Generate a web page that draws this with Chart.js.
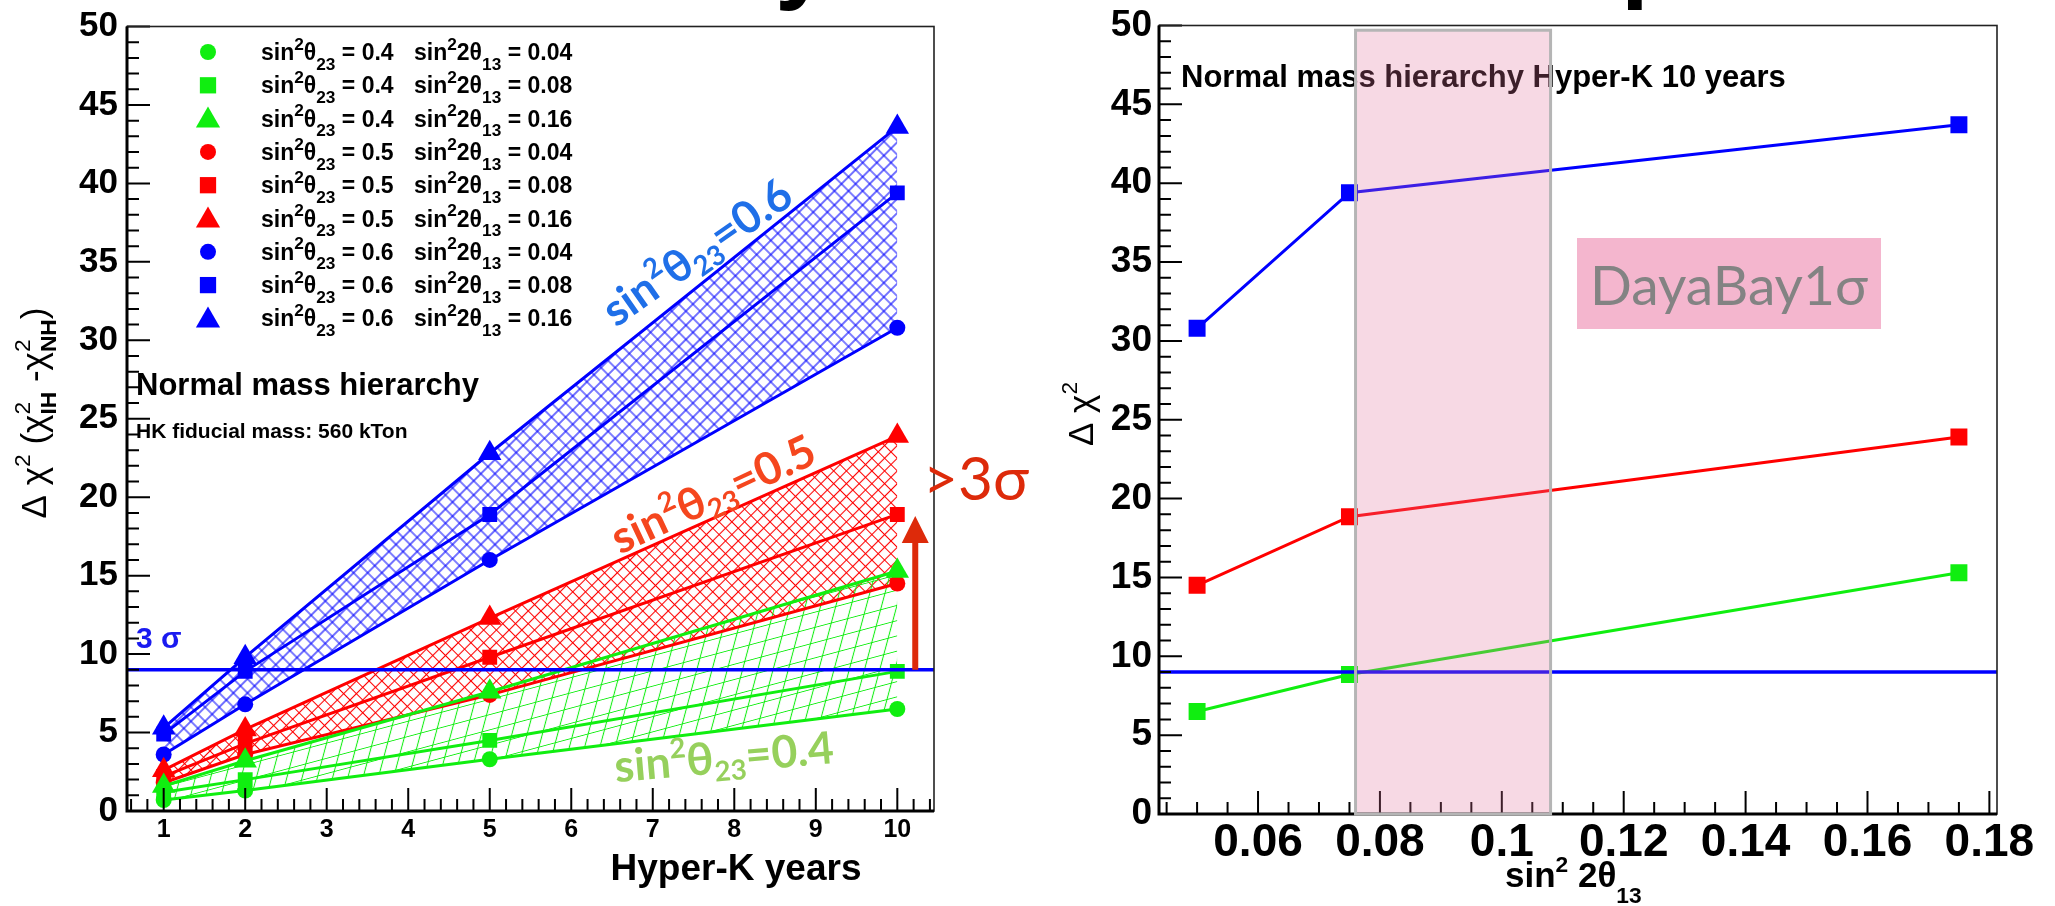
<!DOCTYPE html>
<html>
<head>
<meta charset="utf-8">
<title>Hyper-K mass hierarchy sensitivity</title>
<script src="https://cdn.jsdelivr.net/npm/chart.js@4.4.1/dist/chart.umd.min.js"></script>
<style>
  html, body { margin: 0; padding: 0; background: #fff; }
  body { width: 2055px; height: 906px; position: relative; overflow: hidden; }
  canvas { position: absolute; top: 0; }
  #left { left: 0; }
  #right { left: 1050px; }
</style>
</head>
<body>
<canvas id="left" width="1050" height="906"></canvas>
<canvas id="right" width="1005" height="906"></canvas>
<script>
// ---------------- data ----------------
const years = [1, 2, 5, 10];
const sin2th23 = [0.4, 0.5, 0.6];
const sin22th13 = [0.04, 0.08, 0.16];

// delta chi2 (IH - NH), normal hierarchy, 560 kton
const dchi2_04_004 = [0.7, 1.3, 3.3, 6.5];
const dchi2_04_008 = [1.2, 2.0, 4.5, 8.9];
const dchi2_04_016 = [1.6, 3.2, 7.6, 15.3];
const dchi2_05_004 = [1.8, 3.6, 7.4, 14.5];
const dchi2_05_008 = [2.2, 4.3, 9.8, 18.9];
const dchi2_05_016 = [2.6, 5.2, 12.3, 23.9];
const dchi2_06_004 = [3.6, 6.8, 16.0, 30.8];
const dchi2_06_008 = [4.9, 8.9, 18.9, 39.4];
const dchi2_06_016 = [5.3, 9.8, 22.8, 43.6];

// right panel: 10 years of Hyper-K vs sin^2 2theta13
const th13Points = [0.05, 0.075, 0.175];
const tenYears_04 = [6.5, 8.85, 15.3];
const tenYears_05 = [14.5, 18.85, 23.9];
const tenYears_06 = [30.8, 39.4, 43.7];

const threeSigma = 9;
const dayaBay1Sigma = [0.076, 0.108];
const dayaBayTop = 49.7;
const arrowYears = 10.22;
const arrowTo = 18.8;

const yearTicks = [1, 2, 3, 4, 5, 6, 7, 8, 9, 10];
const th13Ticks = [0.06, 0.08, 0.1, 0.12, 0.14, 0.16, 0.18];
const th13TickLabels = ['0.06', '0.08', '0.1', '0.12', '0.14', '0.16', '0.18'];
const chi2Ticks = [0, 5, 10, 15, 20, 25, 30, 35, 40, 45, 50];

// ---------------- styles ----------------
const HELV = '"Liberation Sans", Arial, Helvetica, sans-serif';
const GILL = 'Lato, "Open Sans", sans-serif';
const GREEN = '#10ee10', RED = '#ff0000', BLUE = '#0000ff';
const L = { xMin: 0.55, xMax: 10.45 };
const R = { xMin: 0.04375, xMax: 0.18125 };

function gridPattern(color, size, lw, matrix) {
  const tile = document.createElement('canvas');
  tile.width = size; tile.height = size;
  const g = tile.getContext('2d');
  g.strokeStyle = color; g.lineWidth = lw;
  g.beginPath();
  g.moveTo(0, size / 2); g.lineTo(size, size / 2);
  g.moveTo(size / 2, 0); g.lineTo(size / 2, size);
  g.stroke();
  const pat = g.createPattern(tile, 'repeat');
  pat.setTransform(matrix);
  return pat;
}
const blueHatch = gridPattern(BLUE, 10, 1.1, new DOMMatrix().rotate(45));
const redHatch = gridPattern(RED, 9, 1.1, new DOMMatrix().rotate(45));
const greenHatch = gridPattern(GREEN, 17, 1.2, new DOMMatrix([0.966, -0.259, -0.259, 0.966, 0, 0]));

// text with ROOT-like super/subscripts
function richRun(ctx, parts, x, y, o, draw) {
  let cx = x;
  const font = (s, w) => `${w || o.weight || 'normal'} ${s}px ${o.family}`;
  for (const p of parts) {
    if (typeof p === 'string') {
      ctx.font = font(o.size);
      if (draw) ctx.fillText(p, cx, y);
      cx += ctx.measureText(p).width;
    } else {
      const s = o.size * (o.script || 0.65);
      let w = 0;
      if (p.sup) {
        ctx.font = font(s, p.supWeight);
        if (draw) ctx.fillText(p.sup, cx, y - o.size * (o.rise || 0.42));
        w = Math.max(w, ctx.measureText(p.sup).width);
      }
      if (p.sub) {
        ctx.font = font(s, p.subWeight);
        if (draw) ctx.fillText(p.sub, cx, y + o.size * (o.drop || 0.25));
        w = Math.max(w, ctx.measureText(p.sub).width);
      }
      cx += w + (o.gap || 0);
    }
  }
  return cx - x;
}

function label(ctx, parts, cx, cy, deg, o) {
  ctx.save();
  ctx.translate(cx, cy);
  ctx.rotate(deg * Math.PI / 180);
  ctx.fillStyle = o.color || '#000';
  ctx.textAlign = 'left';
  ctx.textBaseline = 'alphabetic';
  let size = o.size;
  if (o.fitWidth) size = size * o.fitWidth / richRun(ctx, parts, 0, 0, o, false);
  const opt = Object.assign({}, o, { size });
  const w = o.align === 'left' ? 0 : richRun(ctx, parts, 0, 0, opt, false);
  richRun(ctx, parts, -w / 2, o.baseShift === undefined ? size * 0.35 : o.baseShift, opt, true);
  ctx.restore();
}

const theta23Label = v => ['sin', { sup: '2' }, 'θ', { sub: '23' }, '=' + v];

// ROOT style axes: ticks inside, frame
function drawFrame(chart, xMajor, xMinor, yMajor, yMinor) {
  const { ctx, chartArea: a, scales: { x, y } } = chart;
  ctx.save();
  ctx.strokeStyle = '#000';
  ctx.lineWidth = 2;
  ctx.beginPath();
  xMajor.forEach(v => { const p = x.getPixelForValue(v); ctx.moveTo(p, a.bottom); ctx.lineTo(p, a.bottom - 23); });
  xMinor.forEach(v => { const p = x.getPixelForValue(v); ctx.moveTo(p, a.bottom); ctx.lineTo(p, a.bottom - 12); });
  yMajor.forEach(v => { const p = y.getPixelForValue(v); ctx.moveTo(a.left, p); ctx.lineTo(a.left + 23, p); });
  yMinor.forEach(v => { const p = y.getPixelForValue(v); ctx.moveTo(a.left, p); ctx.lineTo(a.left + 12, p); });
  ctx.stroke();
  ctx.lineWidth = 1.6;
  ctx.strokeStyle = '#222';
  ctx.strokeRect(a.left, a.top, a.right - a.left, a.bottom - a.top);
  ctx.lineWidth = 3;
  ctx.strokeStyle = '#000';
  ctx.beginPath();
  ctx.moveTo(a.left, a.top); ctx.lineTo(a.left, a.bottom); ctx.lineTo(a.right, a.bottom);
  ctx.stroke();
  ctx.restore();
}

function minorTicks(from, to, step, majors) {
  const out = [];
  for (let k = Math.round(from / step); k * step <= to + 1e-9; k++) {
    const v = +(k * step).toFixed(6);
    if (!majors.some(m => Math.abs(m - v) < 1e-9)) out.push(v);
  }
  return out;
}
const yMinor = minorTicks(1, 49, 1, chi2Ticks);

function scaleY(width, size, pad) {
  return {
    min: 0, max: 50,
    afterBuildTicks: s => { s.ticks = chi2Ticks.map(v => ({ value: v })); },
    afterFit: s => { s.width = width; },
    grid: { display: false, drawTicks: false }, border: { display: false },
    ticks: { color: '#000', padding: pad, font: { family: HELV, size, weight: 'bold', lineHeight: 1 } }
  };
}

// ---------------- left chart ----------------
const groups = [
  { color: GREEN, hatch: greenHatch, tri: dchi2_04_016, sq: dchi2_04_008, circ: dchi2_04_004 },
  { color: RED, hatch: redHatch, tri: dchi2_05_016, sq: dchi2_05_008, circ: dchi2_05_004 },
  { color: BLUE, hatch: blueHatch, tri: dchi2_06_016, sq: dchi2_06_008, circ: dchi2_06_004 }
];
const toPoints = (xs, ys) => xs.map((x, i) => ({ x, y: ys[i] }));

const leftDatasets = [{
  label: '3 sigma', data: [{ x: L.xMin, y: threeSigma }, { x: L.xMax, y: threeSigma }],
  borderColor: BLUE, borderWidth: 3.5, pointRadius: 0, fill: false
}];
const legendRows = [];
groups.forEach((g, gi) => {
  const sets = [['triangle', g.tri, 13.5, 2], ['rect', g.sq, 10.5, 1], ['circle', g.circ, 8, 0]];
  sets.forEach(([style, arr, r, ti]) => {
    leftDatasets.push({
      label: `sin2th23=${sin2th23[gi]} sin22th13=${sin22th13[ti]}`,
      data: toPoints(years, arr),
      borderColor: g.color, borderWidth: 3,
      backgroundColor: style === 'triangle' ? g.hatch : g.color,
      fill: style === 'triangle' ? '+2' : false,
      pointStyle: style, pointRadius: r, pointBackgroundColor: g.color, pointBorderWidth: 0,
      tension: 0
    });
  });
  [['circle', 8, 0], ['rect', 11.5, 1], ['triangle', 14, 2]].forEach(([style, r, ti]) => {
    legendRows.push({ style, r, color: g.color, a: sin2th23[gi], b: sin22th13[ti] });
  });
});

const leftDecor = {
  id: 'leftDecor',
  afterDatasetsDraw(chart) {
    const { ctx, scales: { x, y } } = chart;
    drawFrame(chart, yearTicks, minorTicks(0.6, 10.4, 0.2, yearTicks), chi2Ticks, yMinor);

    // legend
    legendRows.forEach((row, i) => {
      const cy = 52 + 33.3 * i;
      ctx.save();
      ctx.fillStyle = row.color;
      Chart.helpers.drawPoint(ctx, { pointStyle: row.style, radius: row.r, rotation: 0, borderWidth: 0 }, 208, cy + (row.style === 'triangle' ? 2 : 0));
      ctx.restore();
      const o = { family: HELV, size: 23, weight: 'bold', script: 0.75, rise: 0.45, drop: 0.42, align: 'left', baseShift: 0 };
      label(ctx, ['sin', { sup: '2' }, 'θ', { sub: '23' }, ' = ' + row.a], 261, cy + 8, 0, o);
      label(ctx, ['sin', { sup: '2' }, '2θ', { sub: '13' }, ' = ' + row.b], 414, cy + 8, 0, o);
    });

    ctx.save();
    ctx.fillStyle = '#000';
    ctx.textAlign = 'left';
    ctx.font = `bold 31px ${HELV}`;
    ctx.fillText('Normal mass hierarchy', 136, 395);
    ctx.font = `bold 21px ${HELV}`;
    ctx.fillText('HK fiducial mass: 560 kTon', 136, 438);
    ctx.fillStyle = '#1a1af0';
    ctx.font = `bold 30px ${HELV}`;
    ctx.fillText('3 σ', 136, 648);
    ctx.restore();

    // band labels
    label(ctx, theta23Label(sin2th23[2]), 697, 252, -35, { family: GILL, size: 40, weight: 'bold', color: '#1f6fe8', fitWidth: 220, script: 0.62, rise: 0.42, drop: 0.18 });
    label(ctx, theta23Label(sin2th23[1]), 713, 494, -25, { family: GILL, size: 40, weight: 'bold', color: '#f5461e', fitWidth: 220, script: 0.62, rise: 0.42, drop: 0.18 });
    label(ctx, theta23Label(sin2th23[0]), 724, 757, -5, { family: GILL, size: 40, weight: 'bold', color: '#96d05c', fitWidth: 220, script: 0.62, rise: 0.42, drop: 0.18 });

    // >3 sigma arrow
    const ax = x.getPixelForValue(arrowYears);
    const y0 = y.getPixelForValue(threeSigma), y1 = y.getPixelForValue(arrowTo);
    ctx.save();
    ctx.strokeStyle = '#dd2a0a'; ctx.fillStyle = '#dd2a0a';
    ctx.lineWidth = 6;
    ctx.beginPath(); ctx.moveTo(ax, y0); ctx.lineTo(ax, y1 + 20); ctx.stroke();
    ctx.beginPath(); ctx.moveTo(ax, y1); ctx.lineTo(ax - 13.5, y1 + 27); ctx.lineTo(ax + 13.5, y1 + 27); ctx.closePath(); ctx.fill();
    ctx.restore();
    label(ctx, ['>3σ'], 976, 478, 0, { family: GILL, size: 60, color: '#dd2a0a', fitWidth: 106, baseShift: 22 });

    // axis titles
    ctx.save();
    ctx.fillStyle = '#000';
    ctx.textAlign = 'center';
    ctx.font = `bold 37px ${HELV}`;
    ctx.fillText('Hyper-K years', 736, 880);
    ctx.restore();
    label(ctx, ['Δ χ', { sup: '2' }, ' (χ', { sup: '2', sub: 'IH', subWeight: 'bold' }, ' -χ', { sup: '2', sub: 'NH', subWeight: 'bold' }, ')'],
      46, 413, -90, { family: HELV, size: 35, script: 0.65, rise: 0.45, drop: 0.28, baseShift: 0 });

    // cut-off title fragment
    ctx.save();
    ctx.fillStyle = '#000';
    ctx.font = `bold 100px ${HELV}`;
    ctx.fillText('y', 775, -10);
    ctx.restore();
  }
};

new Chart(document.getElementById('left'), {
  type: 'line',
  data: { datasets: leftDatasets },
  options: {
    responsive: false, animation: false, devicePixelRatio: 1,
    layout: { padding: { left: 0, top: 24, right: 116, bottom: 0 } },
    scales: {
      x: {
        type: 'linear', min: L.xMin, max: L.xMax,
        afterBuildTicks: s => { s.ticks = yearTicks.map(v => ({ value: v })); },
        afterFit: s => { s.height = 95; },
        grid: { display: false, drawTicks: false }, border: { display: false },
        ticks: { color: '#000', padding: 7, autoSkip: false, maxRotation: 0, font: { family: HELV, size: 25, weight: 'bold', lineHeight: 1 } }
      },
      y: scaleY(127, 35, 9)
    },
    plugins: { legend: { display: false }, tooltip: { enabled: false }, filler: { drawTime: 'beforeDatasetsDraw' } }
  },
  plugins: [leftDecor]
});

// ---------------- right chart ----------------
const rightDatasets = [
  { label: '3 sigma', data: [{ x: R.xMin, y: threeSigma }, { x: R.xMax, y: threeSigma }], borderColor: BLUE, borderWidth: 3.5, pointRadius: 0 },
  { label: 'sin2th23=0.4', data: toPoints(th13Points, tenYears_04), borderColor: GREEN, backgroundColor: GREEN },
  { label: 'sin2th23=0.5', data: toPoints(th13Points, tenYears_05), borderColor: RED, backgroundColor: RED },
  { label: 'sin2th23=0.6', data: toPoints(th13Points, tenYears_06), borderColor: BLUE, backgroundColor: BLUE }
];
rightDatasets.slice(1).forEach(d => Object.assign(d, { borderWidth: 3, pointStyle: 'rect', pointRadius: 12, pointBorderWidth: 0, fill: false, tension: 0 }));

const rightDecor = {
  id: 'rightDecor',
  beforeDatasetsDraw(chart) {
    const { ctx } = chart;
    ctx.save();
    ctx.fillStyle = '#000';
    ctx.font = `bold 31px ${HELV}`;
    ctx.fillText('Normal mass hierarchy Hyper-K 10 years', 131, 87);
    ctx.restore();
  },
  afterDatasetsDraw(chart) {
    const { ctx, scales: { x, y } } = chart;
    drawFrame(chart, th13Ticks, minorTicks(0.045, 0.18, 0.005, th13Ticks), chi2Ticks, yMinor);

    // Daya Bay 1 sigma band (translucent, on top)
    const x0 = x.getPixelForValue(dayaBay1Sigma[0]), x1 = x.getPixelForValue(dayaBay1Sigma[1]);
    const yt = y.getPixelForValue(dayaBayTop), yb = y.getPixelForValue(0);
    ctx.save();
    ctx.fillStyle = 'rgba(225,116,157,0.27)';
    ctx.fillRect(x0, yt, x1 - x0, yb - yt);
    ctx.strokeStyle = '#b5b5b5';
    ctx.lineWidth = 3;
    ctx.strokeRect(x0, yt, x1 - x0, yb - yt);
    ctx.fillStyle = '#f4b6ce';
    ctx.fillRect(527, 238, 304, 91);
    ctx.restore();
    label(ctx, ['DayaBay1σ'], 679, 283, 0, { family: GILL, size: 56, color: '#838383', fitWidth: 278, baseShift: 22 });

    // axis titles
    label(ctx, ['sin', { sup: '2' }, ' 2θ', { sub: '13' }], 455, 887, 0,
      { family: HELV, size: 35, weight: 'bold', script: 0.65, rise: 0.42, drop: 0.45, align: 'left', baseShift: 0 });
    label(ctx, ['Δ χ', { sup: '2' }], 43, 414, -90, { family: HELV, size: 35, script: 0.65, rise: 0.45, baseShift: 0 });

    ctx.save();
    ctx.fillStyle = '#000';
    ctx.font = `bold 100px ${HELV}`;
    ctx.fillText('p', 571, -11);
    ctx.restore();
  }
};

new Chart(document.getElementById('right'), {
  type: 'line',
  data: { datasets: rightDatasets },
  options: {
    responsive: false, animation: false, devicePixelRatio: 1,
    layout: { padding: { left: 0, top: 16, right: 58, bottom: 0 } },
    scales: {
      x: {
        type: 'linear', min: R.xMin, max: R.xMax,
        afterBuildTicks: s => { s.ticks = th13Ticks.map(v => ({ value: v })); },
        afterFit: s => { s.height = 92; },
        grid: { display: false, drawTicks: false }, border: { display: false },
        ticks: {
          color: '#000', padding: 6, autoSkip: false, maxRotation: 0,
          callback: (v, i) => th13TickLabels[i],
          font: { family: HELV, size: 46, weight: 'bold', lineHeight: 1 }
        }
      },
      y: scaleY(109, 37, 7)
    },
    plugins: { legend: { display: false }, tooltip: { enabled: false } }
  },
  plugins: [rightDecor]
});
</script>
</body>
</html>
